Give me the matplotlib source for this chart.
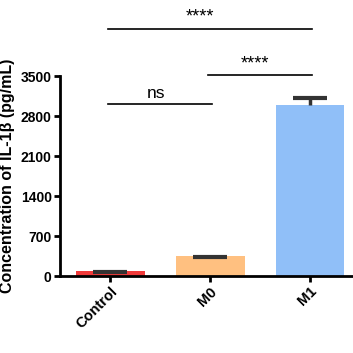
import matplotlib
matplotlib.use("Agg")
import matplotlib.pyplot as plt
import numpy as np

plt.rcParams.update({
    "font.family": ["Liberation Sans", "DejaVu Sans"],
    "font.weight": "bold",
})

# ---- data -----------------------------------------------------------------
groups = ["Control", "M0", "M1"]
means = [95, 350, 2990]        # bar heights
err_tops = [75, 330, 3110]     # where the error-bar caps sit
colors = ["#F03A3A", "#FFC080", "#90BFF8"]
yticks = [0, 700, 1400, 2100, 2800, 3500]

# significance brackets: (left group, right group, height, label)
brackets = [(0, 1, 3005, "ns"), (1, 2, 3510, "****"), (0, 2, 4320, "****")]

# ---- figure ---------------------------------------------------------------
fig = plt.figure(figsize=(3.53, 3.53), dpi=100)
ax = fig.add_axes([60 / 353, 1 - 276 / 353, 293 / 353, 200 / 353])

x = np.arange(len(groups))
ax.bar(x, means, width=0.69, color=colors, zorder=2)
ax.vlines(x, np.minimum(means, err_tops), err_tops, color="#333333", lw=2.5,
          zorder=3)
ax.hlines(err_tops, x - 0.17, x + 0.17, color="#333333", lw=3, zorder=3)

ax.set_xlim(-0.5, 2.43)
ax.set_ylim(0, 3500)
ax.set_yticks(yticks)
ax.set_yticklabels([str(v) for v in yticks], fontsize=10, fontweight="bold")
ax.set_xticks(x)
ax.set_xticklabels(groups, rotation=45, ha="right", rotation_mode="anchor",
                   fontsize=10.5, fontweight="bold")
ax.tick_params(axis="both", direction="out", length=4, width=2, pad=2)
for s in ("top", "right"):
    ax.spines[s].set_visible(False)
for s in ("left", "bottom"):
    ax.spines[s].set_linewidth(2)
ax.set_ylabel("Concentration of IL-1\u03b2 (pg/mL)", fontsize=11.5,
              fontweight="bold", labelpad=4)

for a, b, h, lbl in brackets:
    ax.plot([x[a] - 0.02, x[b] + 0.02], [h, h], color="black", lw=1.2,
            clip_on=False, zorder=4)
    cx = (x[a] + x[b]) / 2
    if lbl == "ns":
        ax.text(cx - 0.04, h + 60, lbl, ha="center", va="bottom", fontsize=12.5,
                fontweight="normal", clip_on=False)
    else:
        ax.text(cx - 0.1 if b - a == 2 else cx - 0.05, h + 60, lbl,
                ha="center", va="bottom", fontsize=13, fontweight="normal",
                clip_on=False)

fig.savefig("out.png", dpi=100)
